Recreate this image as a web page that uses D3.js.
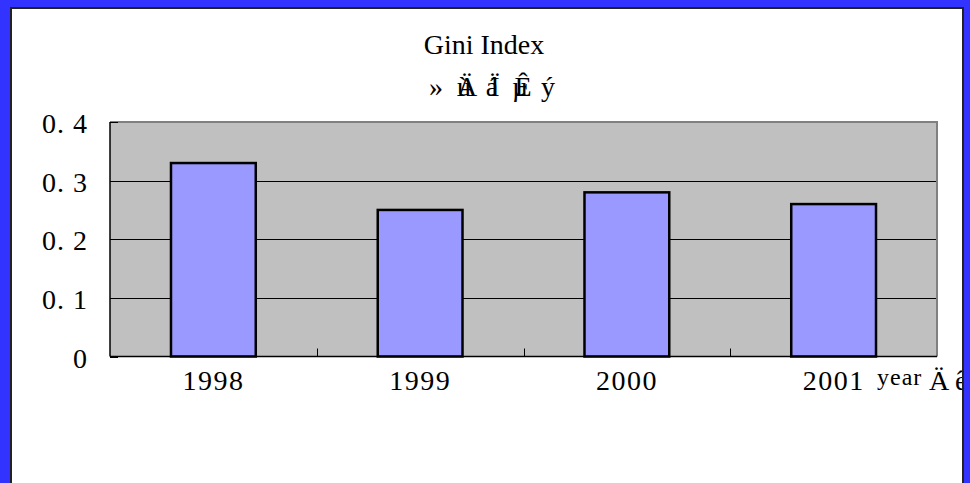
<!DOCTYPE html>
<html>
<head>
<meta charset="utf-8">
<script src="https://cdn.jsdelivr.net/npm/d3@7"></script>
<style>
  html, body { margin: 0; padding: 0; background: #3333ff; }
  svg { display: block; }
  text { font-family: "Liberation Serif", "DejaVu Serif", serif; fill: #000; }
</style>
</head>
<body>
<svg id="chart" width="970" height="483"></svg>
<script>
// chart data
var years = ["1998", "1999", "2000", "2001"];
var gini = [0.33, 0.25, 0.28, 0.26];
var yTicks = [0, 0.1, 0.2, 0.3, 0.4];
var yTickLabels = ["0", "0. 1", "0. 2", "0. 3", "0. 4"];
var title = "Gini Index";
// garbled subtitle as it appears (GBK bytes shown as Latin-1), grouped per slot
var subtitleSlots = ["»", "ùÄ", "áÏ", "µÊ", "ý"];
var xUnit = "year";
var xUnitGarbled = ["Ä", "ê"];

function draw() {
  var svg = d3.select("#chart");

  // white panel with dark frame
  svg.append("defs").append("clipPath").attr("id", "panelClip")
    .append("rect").attr("x", 12).attr("y", 9).attr("width", 950).attr("height", 480);

  svg.append("rect")
    .attr("x", 11).attr("y", 8).attr("width", 952).attr("height", 490)
    .attr("fill", "#fff").attr("stroke", "#222").attr("stroke-width", 2);

  var panel = svg.append("g").attr("clip-path", "url(#panelClip)");

  var pLeft = 110, pRight = 937, pTop = 122, pBottom = 356.5;

  var x = d3.scaleBand().domain(years).range([pLeft, pRight])
    .paddingInner(0.59).paddingOuter(0.295);
  var xIdx = d3.scaleLinear().domain([0, years.length]).range([pLeft, pRight]);
  var y = d3.scaleLinear().domain([0, 0.4]).range([pBottom, pTop]);

  // plot background
  panel.append("rect")
    .attr("x", pLeft).attr("y", pTop)
    .attr("width", pRight - pLeft).attr("height", pBottom - pTop)
    .attr("fill", "#c0c0c0");

  // gridlines
  panel.append("g").selectAll("line")
    .data(yTicks.filter(function(d) { return d > 0 && d < 0.4; }))
    .enter().append("line")
      .attr("x1", pLeft).attr("x2", pRight)
      .attr("y1", function(d) { return Math.round(y(d)) + 0.5; })
      .attr("y2", function(d) { return Math.round(y(d)) + 0.5; })
      .attr("stroke", "#000").attr("stroke-width", 1);

  // top / right frame of plot area (gray)
  panel.append("path")
    .attr("d", "M" + pLeft + "," + pTop + "H" + pRight + "V" + pBottom)
    .attr("fill", "none").attr("stroke", "#808080").attr("stroke-width", 2);

  // bars
  panel.append("g").selectAll("rect")
    .data(gini)
    .enter().append("rect")
      .attr("x", function(d, i) { return x(years[i]); })
      .attr("y", function(d) { return y(d); })
      .attr("width", x.bandwidth())
      .attr("height", function(d) { return y(0) - y(d); })
      .attr("fill", "#9999ff")
      .attr("stroke", "#000")
      .attr("stroke-width", 2.5);

  // axis lines
  panel.append("line")
    .attr("x1", pLeft).attr("x2", pLeft).attr("y1", pTop).attr("y2", pBottom)
    .attr("stroke", "#000").attr("stroke-width", 1.5);
  panel.append("line")
    .attr("x1", pLeft).attr("x2", pRight).attr("y1", pBottom).attr("y2", pBottom)
    .attr("stroke", "#000").attr("stroke-width", 1.5);

  // y tick marks (inward)
  panel.append("g").selectAll("line")
    .data(yTicks)
    .enter().append("line")
      .attr("x1", pLeft).attr("x2", pLeft + 8)
      .attr("y1", function(d) { return Math.round(y(d)) + 0.5; })
      .attr("y2", function(d) { return Math.round(y(d)) + 0.5; })
      .attr("stroke", "#000");

  // x category boundary ticks (upward)
  panel.append("g").selectAll("line")
    .data(d3.range(1, years.length))
    .enter().append("line")
      .attr("x1", function(d) { return Math.round(xIdx(d)) + 0.5; })
      .attr("x2", function(d) { return Math.round(xIdx(d)) + 0.5; })
      .attr("y1", pBottom).attr("y2", pBottom - 8)
      .attr("stroke", "#000");

  // y labels
  panel.append("g").selectAll("text")
    .data(yTicks)
    .enter().append("text")
      .attr("x", 88)
      .attr("y", function(d) { return y(d) + 11; })
      .attr("text-anchor", "end")
      .style("font-size", "28px")
      .style("letter-spacing", "1px")
      .text(function(d, i) { return yTickLabels[i]; });

  // x labels
  panel.append("g").selectAll("text")
    .data(years)
    .enter().append("text")
      .attr("x", function(d) { return x(d) + x.bandwidth() / 2; })
      .attr("y", 390)
      .attr("text-anchor", "middle")
      .style("font-size", "28px")
      .style("letter-spacing", "1.5px")
      .text(function(d) { return d; });

  // x unit label
  panel.append("text")
    .attr("x", 877).attr("y", 385)
    .style("font-size", "24px")
    .style("letter-spacing", "1px")
    .text(xUnit);
  panel.append("g").selectAll("text")
    .data(xUnitGarbled)
    .enter().append("text")
      .attr("x", function(d, i) { return 929 + i * 26; })
      .attr("y", 390)
      .style("font-size", "28px")
      .text(function(d) { return d; });

  // title
  panel.append("text")
    .attr("x", 484).attr("y", 54)
    .attr("text-anchor", "middle")
    .style("font-size", "28px")
    .text(title);

  // garbled subtitle: each slot one em wide, glyphs in a slot overlap
  var slots = panel.append("g").selectAll("g")
    .data(subtitleSlots)
    .enter().append("g")
      .attr("transform", function(d, i) { return "translate(" + (436 + i * 28) + ",96)"; });
  slots.selectAll("text")
    .data(function(d) { return d.split(""); })
    .enter().append("text")
      .attr("x", function(d, j) { return j * 3; })
      .attr("text-anchor", "middle")
      .style("font-size", "28px")
      .text(function(d) { return d; });
}

draw();
</script>
</body>
</html>
